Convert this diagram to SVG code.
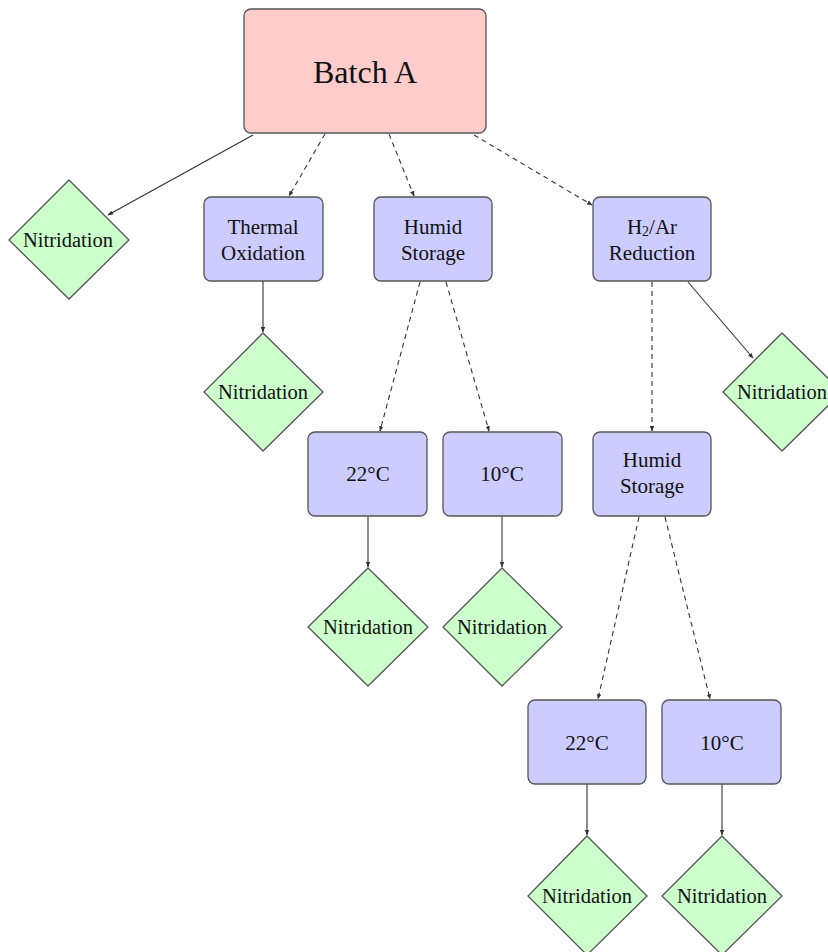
<svg xmlns="http://www.w3.org/2000/svg" width="828" height="952" viewBox="0 0 828 952">
  <defs>
    <marker id="arr" viewBox="0 0 10 10" refX="9" refY="5" markerWidth="5" markerHeight="5" orient="auto">
      <path d="M0,1 L10,5 L0,9 z" fill="#333"/>
    </marker>
    <style>
      .batch { fill: #ffcccc; stroke: #555; stroke-width: 1.3; }
      .step { fill: #ccccff; stroke: #555; stroke-width: 1.3; }
      .nit { fill: #ccffcc; stroke: #555; stroke-width: 1.3; }
      text { font-family: "Liberation Serif", "Times New Roman", serif; fill: #111; text-anchor: middle; dominant-baseline: central; }
      .t { font-size: 21px; }
      .n { font-size: 20.5px; }
      .big { font-size: 32px; }
      .c { stroke: #333; stroke-width: 1.1; fill: none; marker-end: url(#arr); }
      .d { stroke-dasharray: 5 4; }
    </style>
  </defs>
  <rect width="828" height="952" fill="#fff"/>

  <g id="connectors">
    <line class="c" x1="253" y1="135" x2="108" y2="215"/>
    <line class="c d" x1="325" y1="134" x2="289" y2="196"/>
    <line class="c d" x1="389" y1="134" x2="414" y2="196"/>
    <line class="c d" x1="474" y1="135" x2="592" y2="205"/>
    <line class="c" x1="263" y1="281" x2="263" y2="332"/>
    <line class="c d" x1="420" y1="282" x2="380" y2="431"/>
    <line class="c d" x1="446" y1="282" x2="489" y2="431"/>
    <line class="c d" x1="652" y1="282" x2="652" y2="431"/>
    <line class="c" x1="688" y1="282" x2="753" y2="358"/>
    <line class="c" x1="368" y1="516" x2="368" y2="567"/>
    <line class="c" x1="502" y1="516" x2="502" y2="567"/>
    <line class="c d" x1="639" y1="517" x2="598" y2="699"/>
    <line class="c d" x1="665" y1="517" x2="710" y2="699"/>
    <line class="c" x1="587" y1="784" x2="587" y2="835"/>
    <line class="c" x1="722" y1="784" x2="722" y2="835"/>
  </g>

  <g id="batch-a">
    <rect class="batch" x="244" y="9" width="242" height="124" rx="7"/>
    <text class="big" x="365" y="72">Batch A</text>
  </g>

  <g id="nit-direct">
    <polygon class="nit" points="69,180 129,240 69,299 9,240"/>
    <text class="n" x="68" y="240">Nitridation</text>
  </g>

  <g id="thermal-oxidation">
    <rect class="step" x="204" y="197" width="119" height="84" rx="7"/>
    <text class="t" x="263" y="227">Thermal</text>
    <text class="t" x="263" y="253">Oxidation</text>
  </g>
  <g id="nit-thermal">
    <polygon class="nit" points="263,333 323,392 263,451 204,392"/>
    <text class="n" x="263" y="392">Nitridation</text>
  </g>

  <g id="humid-storage">
    <rect class="step" x="374" y="197" width="118" height="84" rx="7"/>
    <text class="t" x="433" y="227">Humid</text>
    <text class="t" x="433" y="253">Storage</text>
  </g>

  <g id="h2ar-reduction">
    <rect class="step" x="593" y="197" width="118" height="84" rx="7"/>
    <text class="t" x="652" y="227">H<tspan font-size="14" dy="4">2</tspan><tspan dy="-4">/Ar</tspan></text>
    <text class="t" x="652" y="253">Reduction</text>
  </g>
  <g id="nit-h2ar">
    <polygon class="nit" points="782,333 842,392 782,451 723,392"/>
    <text class="n" x="782" y="392">Nitridation</text>
  </g>

  <g id="hs-22c">
    <rect class="step" x="308" y="432" width="119" height="84" rx="7"/>
    <text class="t" x="368" y="474">22°C</text>
  </g>
  <g id="nit-hs-22c">
    <polygon class="nit" points="368,568 428,627 368,686 308,627"/>
    <text class="n" x="368" y="627">Nitridation</text>
  </g>

  <g id="hs-10c">
    <rect class="step" x="443" y="432" width="119" height="84" rx="7"/>
    <text class="t" x="502" y="474">10°C</text>
  </g>
  <g id="nit-hs-10c">
    <polygon class="nit" points="502,568 562,627 502,686 443,627"/>
    <text class="n" x="502" y="627">Nitridation</text>
  </g>

  <g id="humid-storage-2">
    <rect class="step" x="593" y="432" width="118" height="84" rx="7"/>
    <text class="t" x="652" y="460">Humid</text>
    <text class="t" x="652" y="486">Storage</text>
  </g>

  <g id="red-22c">
    <rect class="step" x="528" y="700" width="118" height="84" rx="7"/>
    <text class="t" x="587" y="743">22°C</text>
  </g>
  <g id="nit-red-22c">
    <polygon class="nit" points="587,836 647,896 587,955 528,896"/>
    <text class="n" x="587" y="896">Nitridation</text>
  </g>

  <g id="red-10c">
    <rect class="step" x="662" y="700" width="119" height="84" rx="7"/>
    <text class="t" x="722" y="743">10°C</text>
  </g>
  <g id="nit-red-10c">
    <polygon class="nit" points="722,836 782,896 722,955 662,896"/>
    <text class="n" x="722" y="896">Nitridation</text>
  </g>
</svg>
